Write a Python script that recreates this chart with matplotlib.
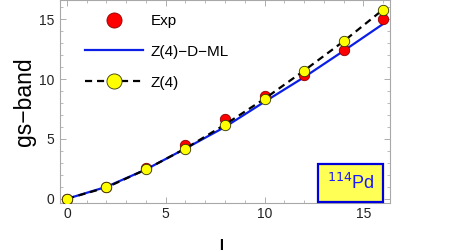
import numpy as np
import matplotlib.pyplot as plt
from matplotlib.ticker import MultipleLocator

plt.rcParams['font.family'] = ['Liberation Sans', 'DejaVu Sans']

# spins and energies (normalised to the 2+ level)
L = [0, 2, 4, 6, 8, 10, 12, 14, 16]
exp_vals = [0, 1.0, 2.6, 4.5, 6.65, 8.55, 10.3, 12.4, 15.05]
dml_vals = [0, 1.0, 2.45, 4.2, 6.0, 8.1, 10.15, 12.35, 14.6]
z4_vals = [0, 0.95, 2.45, 4.2, 6.2, 8.35, 10.7, 13.15, 15.8]

fig = plt.figure(figsize=(4.5, 2.5), dpi=100)
ax = fig.add_axes([60 / 450, 47 / 250, 330 / 450, 203 / 250])

ax.plot(L, exp_vals, 'o', color='red', markeredgecolor='#8b0000', markeredgewidth=0.6,
        markersize=7.5, label='Exp', zorder=3)
ax.plot(L, dml_vals, '-', color='#0a1ee6', lw=1.6, label='Z(4)\u2212D\u2212ML', zorder=2)
ax.plot(L, z4_vals, '--', color='black', lw=1.6, dashes=(3.2, 2.2), marker='o',
        markerfacecolor='#ffff00', markeredgecolor='#333300', markeredgewidth=0.6,
        markersize=7.5, label='Z(4)', zorder=4)

ax.set_xlim(-0.35, 16.35)
ax.set_ylim(-0.35, 16.6)

ax.xaxis.set_major_locator(MultipleLocator(5))
ax.xaxis.set_minor_locator(MultipleLocator(1))
ax.yaxis.set_major_locator(MultipleLocator(5))
ax.yaxis.set_minor_locator(MultipleLocator(1))
ax.tick_params(which='both', direction='in', top=True, right=True, color='#a0a0a0',
               labelsize=10, labelcolor='#222222', pad=3)
ax.tick_params(which='major', length=4, width=0.6)
ax.tick_params(which='minor', length=2.2, width=0.5)
ax.tick_params(axis='y', pad=4)
for sp in ax.spines.values():
    sp.set_color('#a8a8a8')
    sp.set_linewidth(0.8)

ax.set_ylabel('gs\u2212band', fontsize=16.5, labelpad=2)
ax.set_xlabel('L', fontsize=16.5, labelpad=12)

leg = ax.legend(loc='upper left', bbox_to_anchor=(25 / 330, 189 / 203), frameon=False,
                fontsize=11, markerscale=1.45, handlelength=3.8, handletextpad=0.5,
                labelspacing=1.1, borderaxespad=0, borderpad=0)

ax.text(0.88, 0.097, r'$^{114}$Pd', transform=ax.transAxes, ha='center', va='center',
        fontsize=13, color='#1a1aff',
        bbox=dict(boxstyle='square,pad=0.5', facecolor='#ffff55', edgecolor='#0000dd', linewidth=1.6))

fig.savefig('out.png', dpi=100)
